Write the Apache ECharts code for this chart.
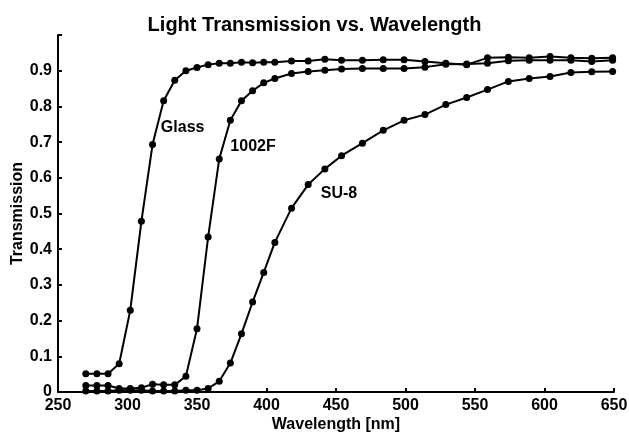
<!DOCTYPE html>
<html>
<head>
<meta charset="utf-8">
<script src="https://cdn.jsdelivr.net/npm/echarts@6/dist/echarts.min.js"></script>
<style>
  html, body { margin: 0; padding: 0; background: #fff; }
  #chart { width: 629px; height: 432px; }
</style>
</head>
<body>
<div id="chart"></div>
<script>
// wavelengths [nm] shared by all three curves
const wavelengths = [270, 278, 286, 294, 302, 310, 318, 326, 334, 342, 350, 358, 366, 374, 382, 390, 398, 406,
  418, 430, 442, 454, 469, 484, 499, 514, 529, 544, 559, 574, 589, 604, 619, 634, 649]

const glass = [0.051, 0.051, 0.051, 0.079, 0.229, 0.478, 0.693, 0.816, 0.873, 0.900, 0.909, 0.917, 0.921, 0.921, 0.924, 0.922, 0.924, 0.924,
  0.927, 0.927, 0.932, 0.929, 0.929, 0.931, 0.931, 0.926, 0.921, 0.917, 0.936, 0.938, 0.936, 0.940, 0.936, 0.935, 0.936]

const f1002 = [0.018, 0.018, 0.018, 0.010, 0.010, 0.012, 0.022, 0.020, 0.020, 0.044, 0.177, 0.434, 0.653, 0.761, 0.816, 0.844, 0.866, 0.878,
  0.892, 0.898, 0.901, 0.905, 0.906, 0.906, 0.906, 0.910, 0.918, 0.919, 0.921, 0.928, 0.929, 0.929, 0.929, 0.926, 0.929]

const su8 = [0.003, 0.003, 0.003, 0.005, 0.005, 0.005, 0.003, 0.003, 0.003, 0.005, 0.005, 0.010, 0.030, 0.081, 0.163, 0.252, 0.335, 0.419,
  0.515, 0.581, 0.625, 0.662, 0.697, 0.733, 0.761, 0.777, 0.805, 0.825, 0.847, 0.870, 0.878, 0.884, 0.895, 0.897, 0.898]

const seriesNames = ['Glass', '1002F', 'SU-8']
// where each curve's name label sits, in data units [wavelength, transmission]
const labelAt = [[324, 0.74], [374, 0.688], [439, 0.555]]

const font = 'Liberation Sans, Arial, sans-serif'

let myChart = echarts.init(document.getElementById('chart'))

function makeSeries(name, values, at) {
  return {
    name: name,
    type: 'line',
    data: wavelengths.map((w, i) => [w, values[i]]),
    symbol: 'circle',
    symbolSize: 7,
    itemStyle: { color: '#000' },
    lineStyle: { color: '#000', width: 2 },
    animation: false,
    markPoint: {
      symbol: 'circle',
      symbolSize: 0,
      animation: false,
      label: {
        show: true,
        position: 'right',
        distance: 0,
        formatter: name,
        color: '#000',
        fontFamily: font,
        fontWeight: 'bold',
        fontSize: 16
      },
      data: [{ coord: at }]
    }
  }
}

let option = {
  backgroundColor: '#fff',
  animation: false,
  title: {
    text: 'Light Transmission vs. Wavelength',
    left: 'center',
    top: 10,
    textStyle: {
      color: '#000',
      fontFamily: font,
      fontWeight: 'bold',
      fontSize: 20
    }
  },
  grid: {
    left: 58,
    right: 15,
    top: 35,
    bottom: 40,
    outerBoundsMode: 'none'
  },
  xAxis: {
    type: 'value',
    min: 250,
    max: 650,
    interval: 50,
    name: 'Wavelength [nm]',
    nameLocation: 'middle',
    nameGap: 25,
    nameMoveOverlap: false,
    nameTextStyle: { color: '#000', fontFamily: font, fontWeight: 'bold', fontSize: 16 },
    axisLine: { lineStyle: { color: '#000', width: 2 } },
    axisTick: { inside: true, length: 4, lineStyle: { color: '#000', width: 2 } },
    axisLabel: { color: '#000', fontFamily: font, fontWeight: 'bold', fontSize: 16, margin: 6 },
    splitLine: { show: false }
  },
  yAxis: {
    type: 'value',
    min: 0,
    max: 1,
    interval: 0.1,
    name: 'Transmission',
    nameLocation: 'middle',
    nameGap: 32,
    nameMoveOverlap: false,
    nameTextStyle: { color: '#000', fontFamily: font, fontWeight: 'bold', fontSize: 16 },
    axisLine: { show: true, lineStyle: { color: '#000', width: 2 } },
    axisTick: { show: true, inside: true, length: 4, lineStyle: { color: '#000', width: 2 } },
    axisLabel: {
      color: '#000',
      fontFamily: font,
      fontWeight: 'bold',
      fontSize: 16,
      margin: 6,
      formatter: v => (v >= 1 ? '' : String(Math.round(v * 10) / 10))
    },
    splitLine: { show: false }
  },
  series: seriesNames.map((n, i) => makeSeries(n, [glass, f1002, su8][i], labelAt[i]))
}

myChart.setOption(option)
</script>
</body>
</html>
